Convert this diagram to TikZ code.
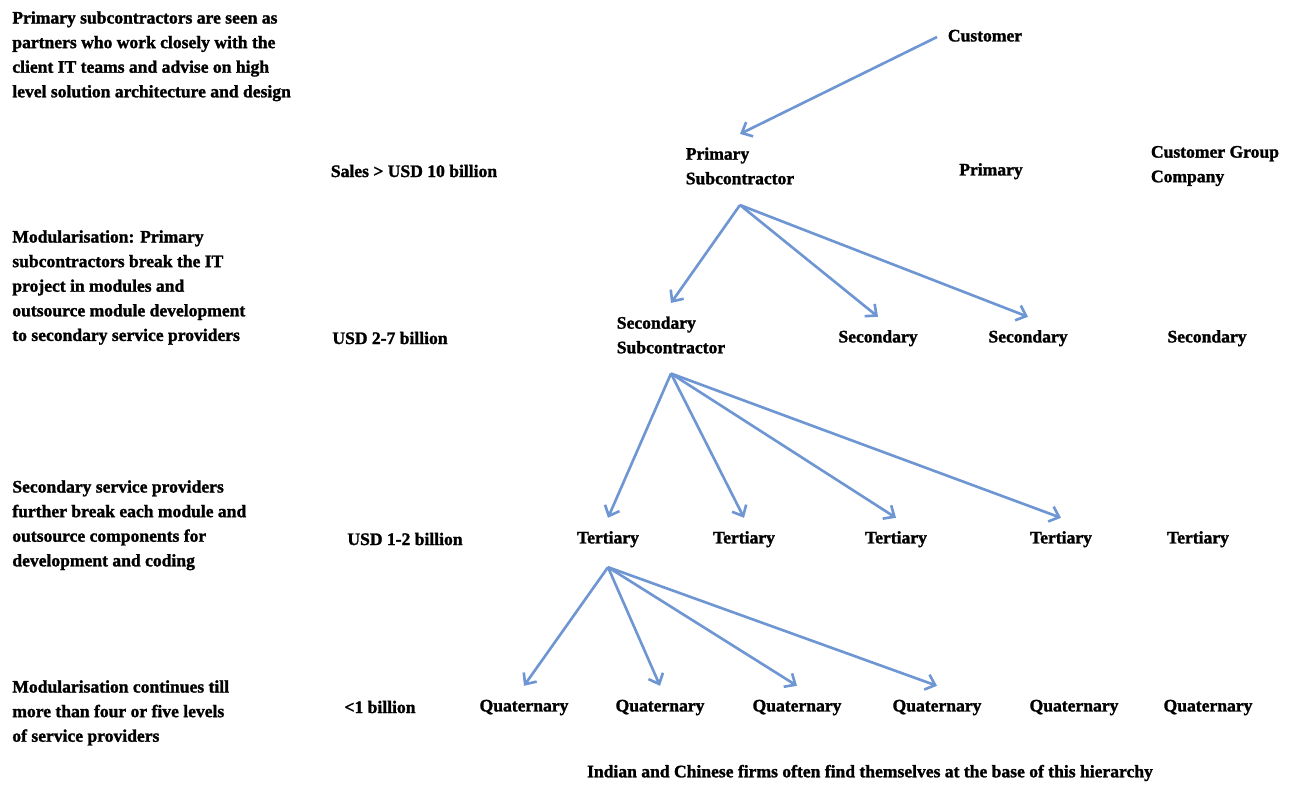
\documentclass[tikz,border=0pt]{standalone}
\usepackage{fontspec}
\setmainfont[FakeBold=1.5]{Liberation Serif}
\usetikzlibrary{arrows.meta, positioning}

\definecolor{arrowblue}{RGB}{110,150,210}

\begin{document}
\begin{tikzpicture}[
  x=0.02cm, y=-0.02cm,
  every node/.style={font=\fontsize{10}{14}\selectfont\bfseries},
  desc/.style={anchor=north west, align=left, inner sep=0pt},
  size/.style={inner sep=1pt},
  tier/.style={inner xsep=6pt, inner ysep=7.5pt, text height=1.5ex, text depth=0.4ex},
  tierii/.style={align=left, inner xsep=6pt, inner ysep=7.5pt},
  link/.style={-{Straight Barb[length=5pt, width=9pt]}, line width=1.5pt, draw=arrowblue}
]
\useasboundingbox (0,0) rectangle (1296,787);

% ------------------------------------------------------------
% Descriptions on the left
% ------------------------------------------------------------

\node[desc] (d1) at (12,11) {Primary subcontractors are seen as\\partners who work closely with the\\client IT teams and advise on high\\level solution architecture and design};
\node[desc] (d2) at (12,230) {Modularisation: Primary\\subcontractors break the IT\\project in modules and\\outsource module development\\to secondary service providers};
\node[desc] (d3) at (12,480) {Secondary service providers\\further break each module and\\outsource components for\\development and coding};
\node[desc] (d4) at (12,680) {Modularisation continues till\\more than four or five levels\\of service providers};

% ------------------------------------------------------------
% Company sizes
% ------------------------------------------------------------

\node[size] (sales) at (414,171) {Sales > USD 10 billion};
\node[size] (usdii) at (390,338) {USD 2-7 billion};
\node[size] (usdi) at (405,539) {USD 1-2 billion};
\node[size] (lti) at (380,707) {<1 billion};

% ------------------------------------------------------------
% Customer and primary level
% ------------------------------------------------------------

\node[tier] (cust) at (985,37) {Customer};

\node[tierii] (ps) at (740,166) {Primary\\Subcontractor};
\node[tier] (prim) at (991,171) {Primary};
\node[tierii] (cgc) at (1215,166) {Customer Group\\Company};

\draw[link] (cust.west) -- (ps.north);

% ------------------------------------------------------------
% Secondary level
% ------------------------------------------------------------

\node[tierii] (ss) at (671,335) {Secondary\\Subcontractor};
\node[tier] (seci) at (878,338) {Secondary};
\node[tier] (secii) at (1028,338) {Secondary};
\node[tier] (seciii) at (1207,338) {Secondary};

\coordinate[below=0.14cm of ps] (psfork);
\draw[link] (psfork) -- (ss.north);
\draw[link] (psfork) -- (seci.north);
\draw[link] (psfork) -- (secii.north);

% ------------------------------------------------------------
% Tertiary level
% ------------------------------------------------------------

\node[tier] (ti) at (608,539) {Tertiary};
\node[tier] (tii) at (744,539) {Tertiary};
\node[tier] (tiii) at (896,539) {Tertiary};
\node[tier] (tiv) at (1061,539) {Tertiary};
\node[tier] (tv) at (1198,539) {Tertiary};

\coordinate[below=0.13cm of ss] (ssfork);
\draw[link] (ssfork) -- (ti.north);
\draw[link] (ssfork) -- (tii.north);
\draw[link] (ssfork) -- (tiii.north);
\draw[link] (ssfork) -- (tiv.north);

% ------------------------------------------------------------
% Quaternary level
% ------------------------------------------------------------

\node[tier] (qi) at (524,707) {Quaternary};
\node[tier] (qii) at (660,707) {Quaternary};
\node[tier] (qiii) at (797,707) {Quaternary};
\node[tier] (qiv) at (937,707) {Quaternary};
\node[tier] (qv) at (1074,707) {Quaternary};
\node[tier] (qvi) at (1208,707) {Quaternary};

\coordinate[below=0.14cm of ti] (tfork);
\draw[link] (tfork) -- (qi.north);
\draw[link] (tfork) -- (qii.north);
\draw[link] (tfork) -- (qiii.north);
\draw[link] (tfork) -- (qiv.north);

% ------------------------------------------------------------
% Note
% ------------------------------------------------------------

\node[size] (note) at (870,773) {Indian and Chinese firms often find themselves at the base of this hierarchy};

\end{tikzpicture}
\end{document}
